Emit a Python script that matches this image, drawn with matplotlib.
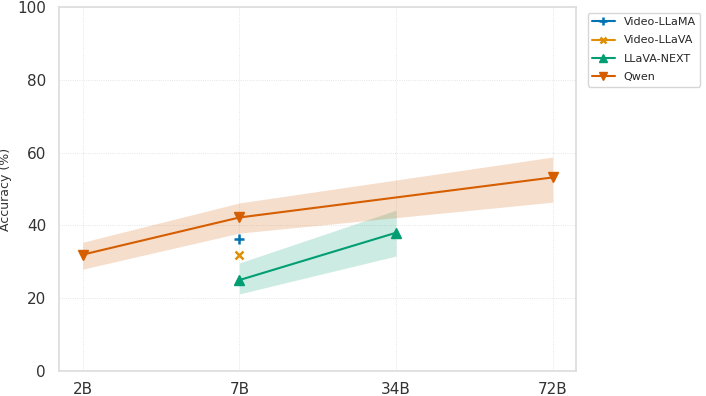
import matplotlib
matplotlib.use("Agg")
import matplotlib.pyplot as plt
import seaborn as sns

# model sizes (categorical axis)
sizes = ["2B", "7B", "34B", "72B"]

llama_x = ["7B"]
llama_acc = [36.2]

llava_x = ["7B"]
llava_acc = [31.8]

next_x = ["7B", "34B"]
next_acc = [25.0, 38.0]
next_lo = [21.2, 31.6]
next_hi = [29.7, 44.2]

qwen_x = ["2B", "7B", "72B"]
qwen_acc = [32.0, 42.2, 53.2]
qwen_lo = [28.0, 37.9, 46.4]
qwen_hi = [35.4, 46.2, 58.8]

sns.set_theme(style="whitegrid")
plt.rcParams["font.family"] = ["DejaVu Sans"]
pal = sns.color_palette("colorblind")

fig, ax = plt.subplots(figsize=(7.06, 3.96), dpi=100)

pos = {s: i for i, s in enumerate(sizes)}


def px(xs):
    return [pos[s] for s in xs]


ax.plot(px(llama_x), llama_acc, marker="+", color=pal[0], markersize=7,
        markeredgewidth=1.8, label="Video-LLaMA")
ax.plot(px(llava_x), llava_acc, marker="x", color=pal[1], markersize=5.5,
        markeredgewidth=1.8, label="Video-LLaVA")
ax.plot(px(next_x), next_acc, marker="^", color=pal[2], markersize=6.5,
        linewidth=1.5, label="LLaVA-NEXT")
ax.fill_between(px(next_x), next_lo, next_hi, color=pal[2], alpha=0.2,
                linewidth=0)
ax.plot(px(qwen_x), qwen_acc, marker="v", color=pal[3], markersize=6.5,
        linewidth=1.5, label="Qwen")
ax.fill_between(px(qwen_x), qwen_lo, qwen_hi, color=pal[3], alpha=0.2,
                linewidth=0)

ax.set_xticks(range(len(sizes)))
ax.set_xticklabels(sizes)
ax.set_xlim(-0.15, 3.15)
ax.set_ylim(0, 100)
ax.tick_params(axis="both", labelsize=11, colors="#333333")
ax.tick_params(axis="x", pad=2)
ax.set_ylabel("Accuracy (%)", fontsize=9, color="#333333")
ax.grid(True, linestyle=":", linewidth=0.6, color="#dddddd")
for sp in ax.spines.values():
    sp.set_color("#dddddd")

ax.legend(loc="upper left", bbox_to_anchor=(1.012, 1.0), fontsize=8,
          frameon=True, markerscale=0.8, labelspacing=0.75)

fig.subplots_adjust(left=0.084, right=0.816, top=0.982, bottom=0.063)
fig.savefig("out.png", dpi=100)
